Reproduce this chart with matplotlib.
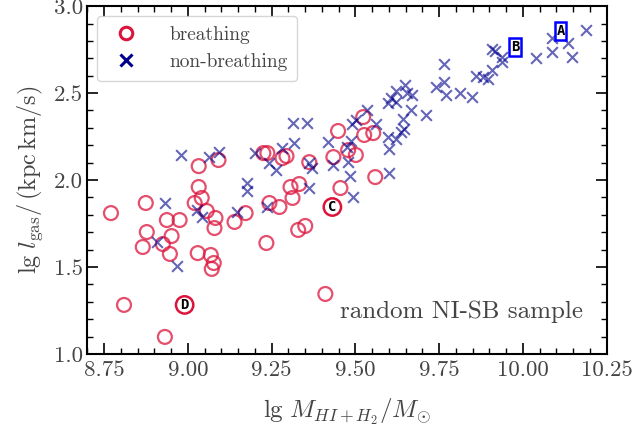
import matplotlib
matplotlib.use("Agg")
import matplotlib.pyplot as plt
from matplotlib.lines import Line2D
from matplotlib.ticker import MultipleLocator

plt.rcParams['font.family'] = 'serif'
plt.rcParams['font.serif'] = ['cmr10']
plt.rcParams['mathtext.fontset'] = 'cm'
plt.rcParams['axes.formatter.use_mathtext'] = True

# breathing galaxies (lg M, lg l)
br_x = [8.770, 8.809, 8.874, 8.877, 8.865, 8.931, 8.937, 8.975, 8.951, 8.925,
        8.946, 8.990, 9.032, 9.091, 9.032, 9.041, 9.020, 9.056, 9.082, 9.079,
        9.029, 9.068, 9.077, 9.071, 9.139, 9.172, 9.225, 9.237, 9.243, 9.234,
        9.273, 9.306, 9.312, 9.332, 9.329, 9.350, 9.282, 9.294, 9.362, 9.434,
        9.455, 9.431, 9.410, 9.478, 9.501, 9.448, 9.523, 9.526, 9.553, 9.559]
br_y = [1.810, 1.282, 1.868, 1.701, 1.615, 1.098, 1.770, 1.770, 1.678, 1.632,
        1.575, 1.282, 2.080, 2.115, 1.960, 1.897, 1.868, 1.822, 1.782, 1.724,
        1.580, 1.569, 1.523, 1.489, 1.759, 1.810, 2.155, 2.155, 1.868, 1.638,
        1.845, 1.960, 1.897, 1.977, 1.713, 1.736, 2.126, 2.138, 2.103, 2.132,
        1.954, 1.845, 1.345, 2.172, 2.144, 2.282, 2.362, 2.259, 2.270, 2.017]

# non-breathing galaxies
nb_x = [8.979, 9.062, 9.094, 8.931, 9.026, 9.041, 8.907, 8.966, 9.199, 9.243,
        9.264, 9.282, 9.315, 9.312, 9.356, 9.177, 9.177, 9.145, 9.237, 9.362,
        9.371, 9.362, 9.419, 9.434, 9.475, 9.478, 9.484, 9.493, 9.490, 9.487,
        9.502, 9.534, 9.560, 9.596, 9.606, 9.621, 9.648, 9.654, 9.621, 9.669,
        9.665, 9.641, 9.710, 9.644, 9.636, 9.621, 9.597, 9.600, 9.600, 9.740,
        9.764, 9.764, 9.770, 9.812, 9.847, 9.859, 9.880, 9.895, 9.907, 9.937,
        9.937, 9.907, 9.916, 10.039, 10.087, 10.087, 10.134, 10.146, 10.188]
nb_y = [2.144, 2.132, 2.161, 1.868, 1.828, 1.787, 1.644, 1.506, 2.155, 2.098,
        2.057, 2.184, 2.213, 2.328, 2.328, 1.983, 1.937, 1.816, 1.845, 2.098,
        2.069, 1.954, 2.218, 2.086, 2.190, 2.103, 2.023, 1.902, 2.322, 2.224,
        2.345, 2.402, 2.322, 2.443, 2.471, 2.511, 2.546, 2.500, 2.448, 2.489,
        2.402, 2.351, 2.374, 2.293, 2.276, 2.236, 2.247, 2.178, 2.040, 2.534,
        2.667, 2.563, 2.489, 2.500, 2.477, 2.598, 2.592, 2.580, 2.632, 2.678,
        2.707, 2.753, 2.741, 2.701, 2.736, 2.816, 2.787, 2.707, 2.862]

# labelled galaxies
lab_names = ['A', 'B', 'C', 'D']
lab_x = [10.112, 9.977, 9.431, 8.990]
lab_y = [2.856, 2.764, 1.845, 1.282]
lab_kind = ['nb', 'nb', 'br', 'br']

red = '#dc143c'
blue = '#00008b'
gray = '#444444'

fig = plt.figure(figsize=(6.34, 4.37), dpi=100)
ax = fig.add_axes([0.138, 0.190, 0.819, 0.796])

ax.scatter(br_x, br_y, s=100, facecolors='none', edgecolors=red,
           linewidths=1.6, alpha=0.75, zorder=3)
ax.scatter(nb_x, nb_y, s=60, marker='x', color=blue, linewidths=1.5,
           alpha=0.6, zorder=3)

for n, x, y, k in zip(lab_names, lab_x, lab_y, lab_kind):
    if k == 'nb':
        bb = dict(boxstyle='square,pad=0.12', fc='white', ec='blue', lw=1.8)
    else:
        bb = dict(boxstyle='circle,pad=0.12', fc='white', ec=red, lw=1.8)
    ax.text(x, y, n, ha='center', va='center', fontsize=10, fontweight='bold',
            family='DejaVu Sans Mono', bbox=bb, zorder=5)

ax.set_xlim(8.70, 10.25)
ax.set_ylim(1.0, 3.0)
ax.xaxis.set_major_locator(MultipleLocator(0.25))
ax.xaxis.set_minor_locator(MultipleLocator(0.05))
ax.yaxis.set_major_locator(MultipleLocator(0.5))
ax.yaxis.set_minor_locator(MultipleLocator(0.1))
ax.xaxis.set_major_formatter(matplotlib.ticker.FormatStrFormatter('%.2f'))
ax.yaxis.set_major_formatter(matplotlib.ticker.FormatStrFormatter('%.1f'))
ax.tick_params(which='both', direction='in', top=True, right=True,
               labelsize=16.5, labelcolor=gray, color='black')
ax.tick_params(which='major', length=8, width=1.2)
ax.tick_params(which='minor', length=4, width=1.0)
ax.tick_params(axis='x', pad=5)
for sp in ax.spines.values():
    sp.set_linewidth(1.5)

ax.set_xlabel(r'$\lg\, M_{HI+H_2}/M_{\odot}$', fontsize=18, color=gray, labelpad=12)
ax.set_ylabel(r'$\lg\, l_{\rm gas}/\,({\rm kpc\,km/s})$', fontsize=17.5, color=gray, labelpad=6)

ax.text(0.955, 0.12, 'random NI-SB sample', transform=ax.transAxes,
        ha='right', va='center', fontsize=18, color=gray)

handles = [Line2D([], [], marker='o', ls='none', mfc='none', mec=red, mew=2.2, ms=9),
           Line2D([], [], marker='x', ls='none', color=blue, mew=2.2, ms=9)]
leg = ax.legend(handles, ['breathing', 'non-breathing'], loc='upper left',
                fontsize=14, frameon=True, fancybox=True, borderpad=0.5,
                handletextpad=1.2, labelspacing=0.5)
for t in leg.get_texts():
    t.set_color(gray)
leg.get_frame().set_edgecolor('#cccccc')

fig.savefig('out.png', dpi=100)
